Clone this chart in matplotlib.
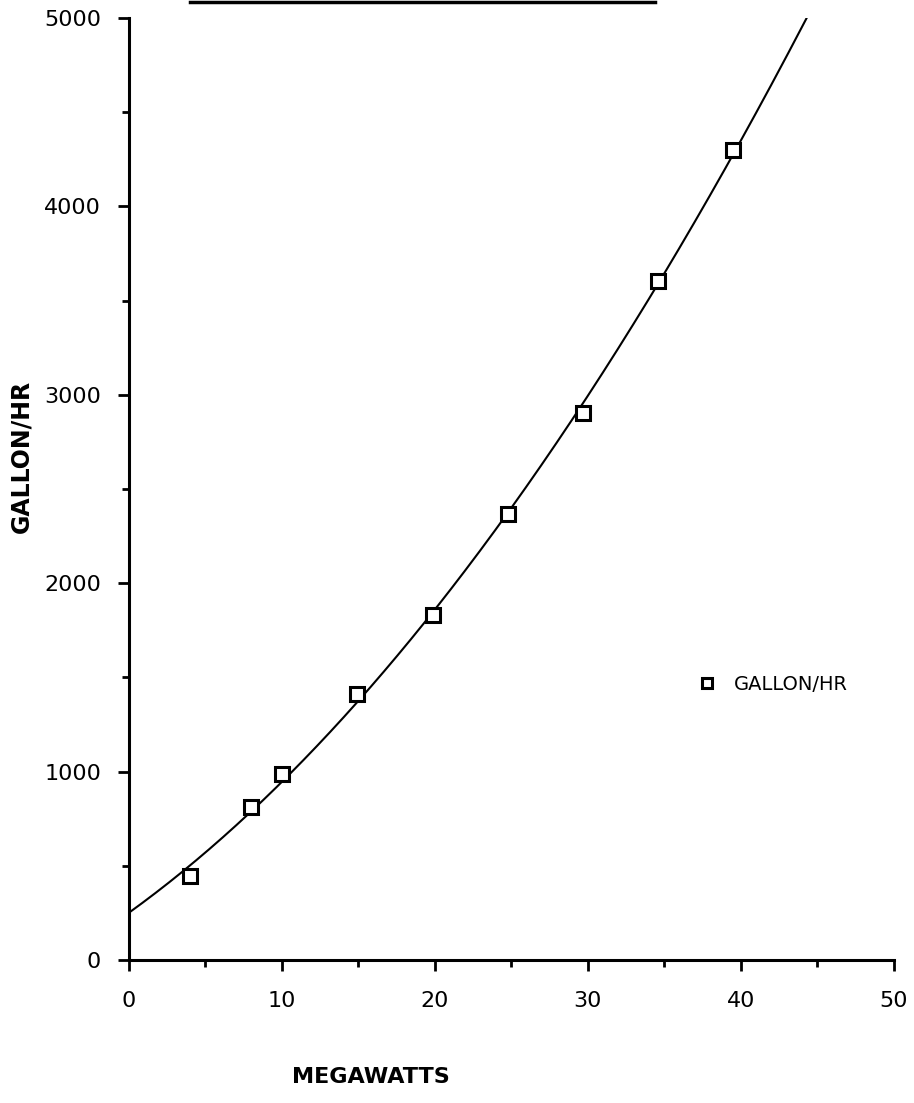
import numpy as np
import matplotlib
matplotlib.use("agg")
import matplotlib.pyplot as plt
from matplotlib.lines import Line2D
from matplotlib.ticker import MultipleLocator

# data
megawatts = [4.0, 8.0, 10.0, 14.9, 19.9, 24.8, 29.7, 34.6, 39.5]
gallon_hr = [447, 814, 986, 1412, 1829, 2366, 2904, 3604, 4299]

xticks = [0, 10, 20, 30, 40, 50]
yticks = [0, 1000, 2000, 3000, 4000, 5000]

fig = plt.figure(figsize=(9.14, 11.03), dpi=100)
ax = fig.add_axes([0.1411, 0.1296, 0.978 - 0.1411, 0.9837 - 0.1296])

# quadratic trend line fitted to the points
coef = np.polyfit(megawatts, gallon_hr, 2)
xs = np.linspace(0, 50, 400)
ax.plot(xs, np.polyval(coef, xs), color="black", lw=1.5)

ax.plot(megawatts, gallon_hr, ls="none", marker="s", ms=10, mfc="white",
        mec="black", mew=2.2, label="GALLON/HR", zorder=3)

ax.set_xlim(0, 50)
ax.set_ylim(0, 5000)
ax.set_xticks(xticks)
ax.set_yticks(yticks)
ax.xaxis.set_minor_locator(MultipleLocator(5))
ax.yaxis.set_minor_locator(MultipleLocator(500))

for s in ["top", "right"]:
    ax.spines[s].set_visible(False)
for s in ["left", "bottom"]:
    ax.spines[s].set_linewidth(2.2)

ax.tick_params(axis="both", which="major", direction="out", length=8, width=2,
               labelsize=16)
ax.tick_params(axis="both", which="minor", direction="out", length=5, width=2)
ax.tick_params(axis="x", which="major", pad=14)
ax.tick_params(axis="y", which="major", pad=12)

ax.set_xlabel("MEGAWATTS", fontsize=16, fontweight="heavy")
ax.set_ylabel("GALLON/HR", fontsize=17, fontweight="heavy")
ax.xaxis.set_label_coords(0.316, -0.114)
ax.yaxis.set_label_coords(-0.125, 0.535)

ax.legend(loc="center left", bbox_to_anchor=(0.72, 0.293), frameon=False,
          fontsize=14, markerscale=0.7, handletextpad=0.9, handlelength=1.0)

# remnant underline of the cut-off title at the top of the scan
fig.add_artist(Line2D([190 / 914, 655 / 914], [1 - 2 / 1103, 1 - 2 / 1103],
                      color="black", lw=2.5, transform=fig.transFigure))

fig.savefig("out.png", dpi=100)
